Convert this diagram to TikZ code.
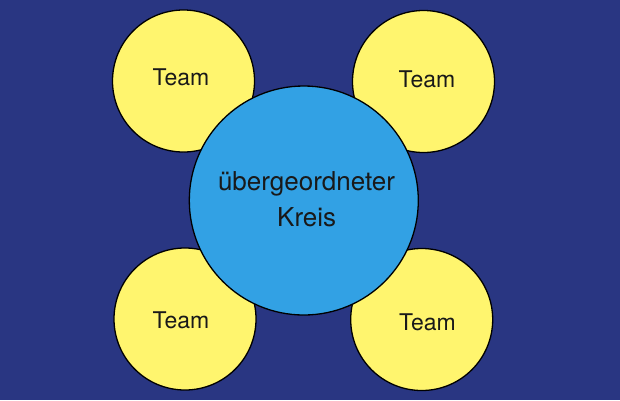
\documentclass[tikz,border=0pt]{standalone}
\usepackage{fontspec}
\setmainfont{TeX Gyre Heros}
\definecolor{bgblue}{RGB}{41,54,130}
\definecolor{teamyellow}{RGB}{255,245,110}
\definecolor{kreisblue}{RGB}{50,161,228}
\begin{document}
\begin{tikzpicture}[x=1pt,y=-1pt,
  team/.style={circle,draw=black,line width=1.3pt,fill=teamyellow,minimum size=142pt,inner sep=0pt},
  kreis/.style={circle,draw=black,line width=1.3pt,fill=kreisblue,minimum size=229pt,inner sep=0pt},
  teamtext/.style={anchor=base,inner sep=0pt,font=\fontsize{23}{27}\selectfont,text=black!90},
  kreistext/.style={anchor=base,inner sep=0pt,font=\fontsize{26}{31}\selectfont,text=black!90}]
\fill[bgblue] (0,0) rectangle (620,400);
\useasboundingbox (0,0) rectangle (620,400);
\node[team] (tl) at (183.5,81) {};
\node[team] (tr) at (423.5,81.5) {};
\node[team] (bl) at (185,319) {};
\node[team] (br) at (421.7,319.5) {};
\node[kreis] (k) at (303.8,200.5) {};
\node[teamtext] (tlt) at (181,85) {Team};
\node[teamtext] (trt) at (427,87.3) {Team};
\node[teamtext] (blt) at (181,328.3) {Team};
\node[teamtext] (brt) at (427.5,330.7) {Team};
\node[kreistext] (k1) at (306.5,190.7) {übergeordneter};
\node[kreistext] (k2) at (306.7,226.7) {Kreis};
\end{tikzpicture}
\end{document}
